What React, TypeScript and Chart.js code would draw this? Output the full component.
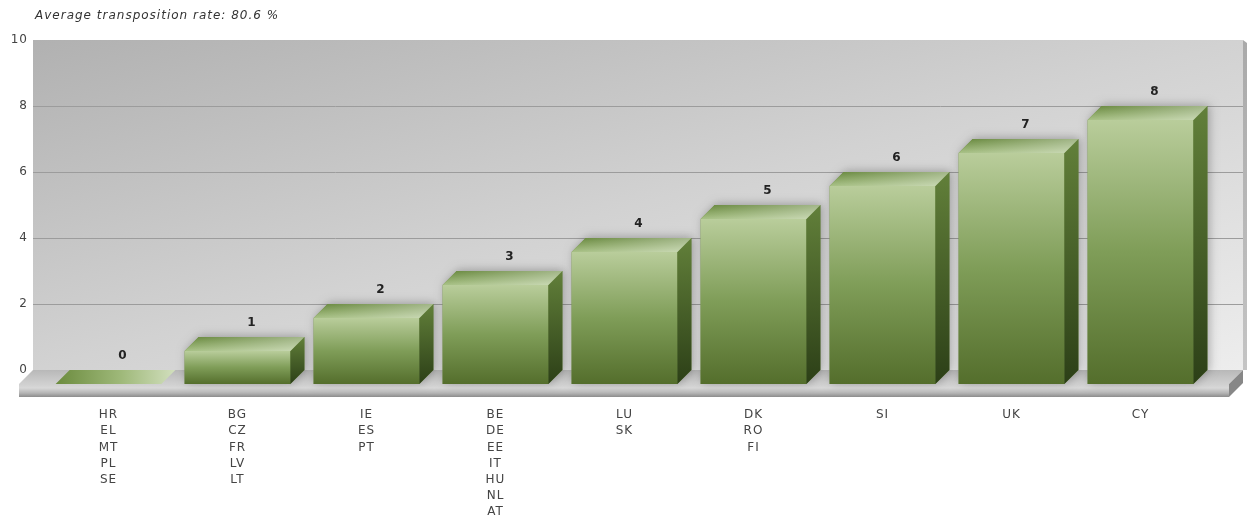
import React, { useEffect, useRef } from 'react';
import { Chart, registerables } from 'chart.js';

Chart.register(...registerables);

const TITLE = 'Average transposition rate: 80.6 %';
const CATEGORY_LABELS: string[][] = [
  ['HR', 'EL', 'MT', 'PL', 'SE'],
  ['BG', 'CZ', 'FR', 'LV', 'LT'],
  ['IE', 'ES', 'PT'],
  ['BE', 'DE', 'EE', 'IT', 'HU', 'NL', 'AT'],
  ['LU', 'SK'],
  ['DK', 'RO', 'FI'],
  ['SI'],
  ['UK'],
  ['CY'],
];
const VALUES: number[] = [0, 1, 2, 3, 4, 5, 6, 7, 8];
const Y_MIN = 0;
const Y_MAX = 10;
const Y_STEP = 2;

const FONT = '"DejaVu Sans", Verdana, sans-serif';
const DEPTH = 14;
const WALL_PAD_L = 25;
const WALL_PAD_R = 24;
const FLOOR_THICK = 13;

const threeDPlugin = {
  id: 'threeD',
  beforeDraw(chart: any) {
    chart.ctx.letterSpacing = '1px';
  },
  beforeDatasetsDraw(chart: any) {
    const { ctx, chartArea, scales } = chart;
    const y = scales.y;
    const wl = chartArea.left - WALL_PAD_L + DEPTH;
    const wr = chartArea.right + WALL_PAD_R + DEPTH;
    const wt = y.getPixelForValue(Y_MAX);
    const wb = y.getPixelForValue(Y_MIN);
    ctx.save();
    const w = wr - wl;
    const h = wb - wt;
    const s = 4 / (1 / (w * w) + 1 / (h * h));
    const g = ctx.createLinearGradient(wl, wt, wl + s / (2 * w), wt + s / (2 * h));
    g.addColorStop(0, '#b1b1b1');
    g.addColorStop(0.5, '#d2d2d2');
    g.addColorStop(1, '#ededed');
    ctx.fillStyle = g;
    ctx.fillRect(wl, wt, w, h);
    // right edge strip
    const rg = ctx.createLinearGradient(0, wt, 0, wb);
    rg.addColorStop(0, '#a9a9a9');
    rg.addColorStop(1, '#c4c4c4');
    ctx.fillStyle = rg;
    ctx.beginPath();
    ctx.moveTo(wr, wt);
    ctx.lineTo(wr + 4, wt + 3);
    ctx.lineTo(wr + 4, wb);
    ctx.lineTo(wr, wb);
    ctx.closePath();
    ctx.fill();
    // grid lines
    ctx.strokeStyle = '#9c9c9c';
    ctx.lineWidth = 1;
    for (let v = Y_MIN + Y_STEP; v < Y_MAX; v += Y_STEP) {
      const py = Math.round(y.getPixelForValue(v)) + 0.5;
      ctx.beginPath();
      ctx.moveTo(wl, py);
      ctx.lineTo(wr, py);
      ctx.stroke();
    }
    // floor top
    const fg = ctx.createLinearGradient(0, wb, 0, wb + DEPTH);
    fg.addColorStop(0, '#b8b8b8');
    fg.addColorStop(1, '#d0d0d0');
    ctx.fillStyle = fg;
    ctx.beginPath();
    ctx.moveTo(wl, wb);
    ctx.lineTo(wr, wb);
    ctx.lineTo(wr - DEPTH, wb + DEPTH);
    ctx.lineTo(wl - DEPTH, wb + DEPTH);
    ctx.closePath();
    ctx.fill();
    // floor front
    const ff = ctx.createLinearGradient(0, wb + DEPTH, 0, wb + DEPTH + FLOOR_THICK);
    ff.addColorStop(0, '#cfcfcf');
    ff.addColorStop(0.3, '#d8d8d8');
    ff.addColorStop(0.7, '#b4b4b4');
    ff.addColorStop(1, '#8c8c8c');
    ctx.fillStyle = ff;
    ctx.fillRect(wl - DEPTH, wb + DEPTH, wr - wl, FLOOR_THICK);
    // floor right side
    ctx.fillStyle = '#878787';
    ctx.beginPath();
    ctx.moveTo(wr - DEPTH, wb + DEPTH);
    ctx.lineTo(wr, wb);
    ctx.lineTo(wr, wb + FLOOR_THICK);
    ctx.lineTo(wr - DEPTH, wb + DEPTH + FLOOR_THICK);
    ctx.closePath();
    ctx.fill();
    ctx.restore();
  },
  afterDatasetsDraw(chart: any) {
    const { ctx } = chart;
    const meta = chart.getDatasetMeta(0);
    ctx.save();
    meta.data.forEach((el: any, i: number) => {
      const { x, y, base, width } = el.getProps(['x', 'y', 'base', 'width'], true);
      const x0 = x - width / 2;
      const x1 = x + width / 2;
      const D = DEPTH;
      const val = VALUES[i];
      if (val > 0) {
        ctx.save();
        ctx.shadowColor = 'rgba(0,0,0,0.28)';
        ctx.shadowBlur = 10;
        ctx.shadowOffsetX = 2;
        ctx.shadowOffsetY = -1;
        ctx.fillStyle = '#6d8b45';
        ctx.beginPath();
        ctx.moveTo(x0, base + D);
        ctx.lineTo(x0, y + D);
        ctx.lineTo(x0 + D, y);
        ctx.lineTo(x1 + D, y);
        ctx.lineTo(x1 + D, base);
        ctx.lineTo(x1, base + D);
        ctx.closePath();
        ctx.fill();
        ctx.restore();
        // front face
        const fg = ctx.createLinearGradient(0, y + D, 0, base + D);
        fg.addColorStop(0, '#b9cd9b');
        fg.addColorStop(0.5, '#7f9d58');
        fg.addColorStop(1, '#546e2c');
        ctx.fillStyle = fg;
        ctx.fillRect(x0, y + D, width, base - y);
        // side face
        const sg = ctx.createLinearGradient(0, y, 0, base + D);
        sg.addColorStop(0, '#62803a');
        sg.addColorStop(1, '#2c3f17');
        ctx.fillStyle = sg;
        ctx.beginPath();
        ctx.moveTo(x1, y + D);
        ctx.lineTo(x1 + D, y);
        ctx.lineTo(x1 + D, base);
        ctx.lineTo(x1, base + D);
        ctx.closePath();
        ctx.fill();
      }
      // top face
      const topPath = () => {
        ctx.beginPath();
        ctx.moveTo(x0, y + D);
        ctx.lineTo(x1, y + D);
        ctx.lineTo(x1 + D, y);
        ctx.lineTo(x0 + D, y);
        ctx.closePath();
      };
      if (val > 0) {
        const tv = ctx.createLinearGradient(0, y, 0, y + D);
        tv.addColorStop(0, '#66873b');
        tv.addColorStop(1, '#a8c186');
        ctx.fillStyle = tv;
        topPath();
        ctx.fill();
        const th = ctx.createLinearGradient(x0, 0, x1 + D, 0);
        th.addColorStop(0, 'rgba(255,255,255,0)');
        th.addColorStop(1, 'rgba(255,255,255,0.4)');
        ctx.fillStyle = th;
        topPath();
        ctx.fill();
      } else {
        const tg = ctx.createLinearGradient(x0, 0, x1 + D, 0);
        tg.addColorStop(0, '#6b8b3e');
        tg.addColorStop(0.55, '#9fb97a');
        tg.addColorStop(1, '#d2dfbe');
        ctx.fillStyle = tg;
        topPath();
        ctx.fill();
      }
      // value label
      ctx.letterSpacing = '0px';
      ctx.fillStyle = '#222';
      ctx.font = 'bold 12px ' + FONT;
      ctx.textAlign = 'center';
      ctx.textBaseline = 'middle';
      ctx.fillText(String(val), x + D, y - 14);
    });
    ctx.restore();
  },
  afterDraw(chart: any) {
    const { ctx } = chart;
    ctx.save();
    ctx.letterSpacing = '1px';
    ctx.fillStyle = '#333';
    ctx.font = 'italic 12px ' + FONT;
    ctx.textAlign = 'left';
    ctx.textBaseline = 'middle';
    ctx.fillText(TITLE, 35, 16);
    ctx.restore();
  },
};

export default function App() {
  const ref = useRef<HTMLCanvasElement | null>(null);
  useEffect(() => {
    if (!ref.current) return;
    const chart = new Chart(ref.current, {
      type: 'bar',
      data: {
        labels: CATEGORY_LABELS as any,
        datasets: [
          {
            data: VALUES,
            backgroundColor: 'rgba(0,0,0,0)',
            borderWidth: 0,
            barPercentage: 0.82,
            categoryPercentage: 1,
          },
        ],
      },
      options: {
        animation: false,
        responsive: false,
        maintainAspectRatio: false,
        layout: { padding: { top: 40, right: 46, left: 0, bottom: 0 } },
        plugins: {
          legend: { display: false },
          tooltip: { enabled: false },
          title: { display: false },
        },
        scales: {
          x: {
            grid: { display: false, drawTicks: false },
            border: { display: false },
            ticks: {
              color: '#444',
              font: { family: FONT, size: 12, lineHeight: 1.35 },
              padding: 37,
              maxRotation: 0,
              autoSkip: false,
            },
            afterFit: (s: any) => {
              s.height = 147;
            },
          },
          y: {
            min: Y_MIN,
            max: Y_MAX,
            ticks: {
              stepSize: Y_STEP,
              color: '#444',
              padding: 16,
              font: { family: FONT, size: 12 },
            },
            grid: { display: false, drawTicks: false },
            border: { display: false },
            afterFit: (s: any) => {
              s.width = 44;
            },
          },
        },
      } as any,
      plugins: [threeDPlugin],
    });
    return () => chart.destroy();
  }, []);
  return (
    <div style={{ position: 'absolute', left: 0, top: 0, width: 1251, height: 517 }}>
      <canvas ref={ref} width={1251} height={517} />
    </div>
  );
}
